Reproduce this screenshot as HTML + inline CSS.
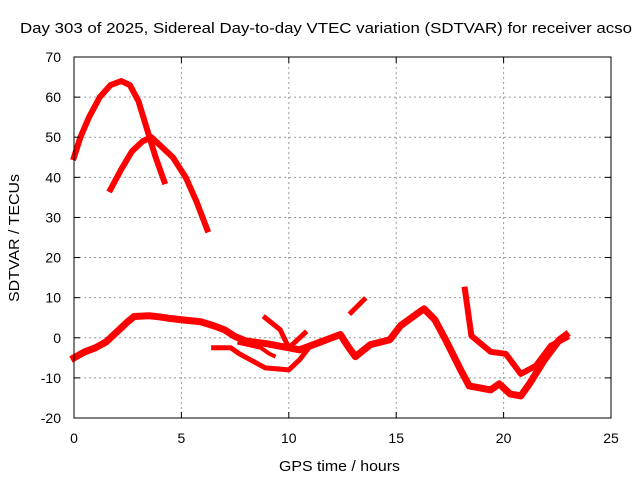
<!DOCTYPE html>
<html><head><meta charset="utf-8"><style>
body{margin:0;background:#fff}
svg{font-family:"Liberation Sans",sans-serif;display:block}
</style></head><body>
<svg id="chart" width="640" height="480">
<text x="20" y="33" font-size="15" textLength="612" lengthAdjust="spacingAndGlyphs">Day 303 of 2025, Sidereal Day-to-day VTEC variation (SDTVAR) for receiver acso</text>
<text x="279" y="471" font-size="15" textLength="121" lengthAdjust="spacingAndGlyphs">GPS time / hours</text>
<text transform="translate(19,302) rotate(-90)" font-size="15" textLength="128" lengthAdjust="spacingAndGlyphs">SDTVAR / TECUs</text>
<g id="grid"></g><g id="series"></g><g id="axes"></g>
</svg>
<script>
const xTicks=[0,5,10,15,20,25];
const yTicks=[-20,-10,0,10,20,30,40,50,60,70];
const arcA=[[0,45],[0.3,50],[0.7,55],[1.2,60],[1.7,63],[2.2,64],[2.6,63],[3,59],[3.4,52],[3.8,45],[4.2,39]];
const arcB=[[1.7,37],[2.2,42],[2.7,46.5],[3.2,49],[3.6,50],[4,48],[4.6,45],[5.2,40],[5.7,34],[6.2,27]];
const mainTrace=[[0,-5],[0.5,-3.5],[1,-2.5],[1.5,-1],[2,1.5],[2.5,4],[2.8,5.3],[3.5,5.5],[4,5.2],[4.5,4.8],[5,4.5],[5.9,4],[6.5,3],[7,2],[7.5,0.3],[8,-0.8],[9,-1.5],[10,-2.5],[10.5,-3],[11,-2],[11.5,-1],[12,0],[12.4,0.8],[12.8,-2.5],[13.1,-4.7],[13.8,-1.7],[14.7,-0.5],[15.2,3],[16.1,6.5],[16.3,7.2],[16.8,4.5],[17.3,-0.5],[18,-8],[18.4,-12],[19.4,-13],[19.8,-11.5],[20.3,-14],[20.8,-14.5],[21.2,-11.5],[21.9,-5.5],[22.6,-0.5],[22.9,0.7]];
const traceD=[[18.2,12],[18.5,0.5],[19.4,-3.5],[20.1,-4],[20.8,-9],[21.5,-7],[22.2,-2],[22.9,0]];
const traceE=[[12.9,6.3],[13.5,9.5]];
const traceF=[[6.5,-2.5],[7.3,-2.5],[7.7,-4],[8.9,-7.5],[10,-8],[10.5,-5.5],[11,-2]];
const traceG=[[8.9,5],[9.6,2],[10,-2.5],[10.75,1.2]];
const traceH=[[7.7,-1.3],[8.7,-2.5],[9.1,-4],[9.3,-4.5]];
const seriesList=[[arcA,6],[arcB,6],[mainTrace,7],[traceD,6],[traceE,5],[traceF,5],[traceG,5],[traceH,4]];
const X0=74,X1=611,Y0=418,Y1=57;
const sx=h=>X0+(h-0)/25*(X1-X0);
const sy=v=>Y0-(v+20)/90*(Y0-Y1);
const NS="http://www.w3.org/2000/svg";
const g=document.getElementById('grid'),ax=document.getElementById('axes'),se=document.getElementById('series');
function mk(t,a,p){const e=document.createElementNS(NS,t);for(const k in a)e.setAttribute(k,a[k]);p.appendChild(e);return e;}
xTicks.forEach(t=>{const x=sx(t);
 if(t>0&&t<25){const l=mk('line',{x1:x,x2:x,y1:Y1,y2:Y0,stroke:'#999','stroke-dasharray':'2,3'},g);
 
 }
 mk('line',{x1:x,x2:x,y1:Y0,y2:Y0-6,stroke:'#000'},ax);mk('line',{x1:x,x2:x,y1:Y1,y2:Y1+6,stroke:'#000'},ax);
 const tx=mk('text',{x:x,y:443,'font-size':14,'text-anchor':'middle'},ax);tx.textContent=t;
 
 });
yTicks.forEach(t=>{const y=sy(t);
 if(t>-20&&t<70){const l=mk('line',{x1:X0,x2:X1,y1:y,y2:y,stroke:'#999','stroke-dasharray':'2,3'},g);
 
 }
 mk('line',{x1:X0,x2:X0+6,y1:y,y2:y,stroke:'#000'},ax);mk('line',{x1:X1,x2:X1-6,y1:y,y2:y,stroke:'#000'},ax);
 const tx=mk('text',{x:61,y:y+5,'font-size':14,'text-anchor':'end'},ax);tx.textContent=t;
 
 });
const fr=mk('rect',{x:X0,y:Y1,width:X1-X0,height:Y0-Y1,fill:'none',stroke:'#000'},ax);


seriesList.forEach(([d,w])=>{
 const p=mk('polyline',{points:d.map(q=>sx(q[0])+','+sy(q[1])).join(' '),fill:'none',stroke:'#f00','stroke-width':w,'stroke-linejoin':'round','stroke-linecap':'square'},se);
 
 });
</script>
</body></html>
